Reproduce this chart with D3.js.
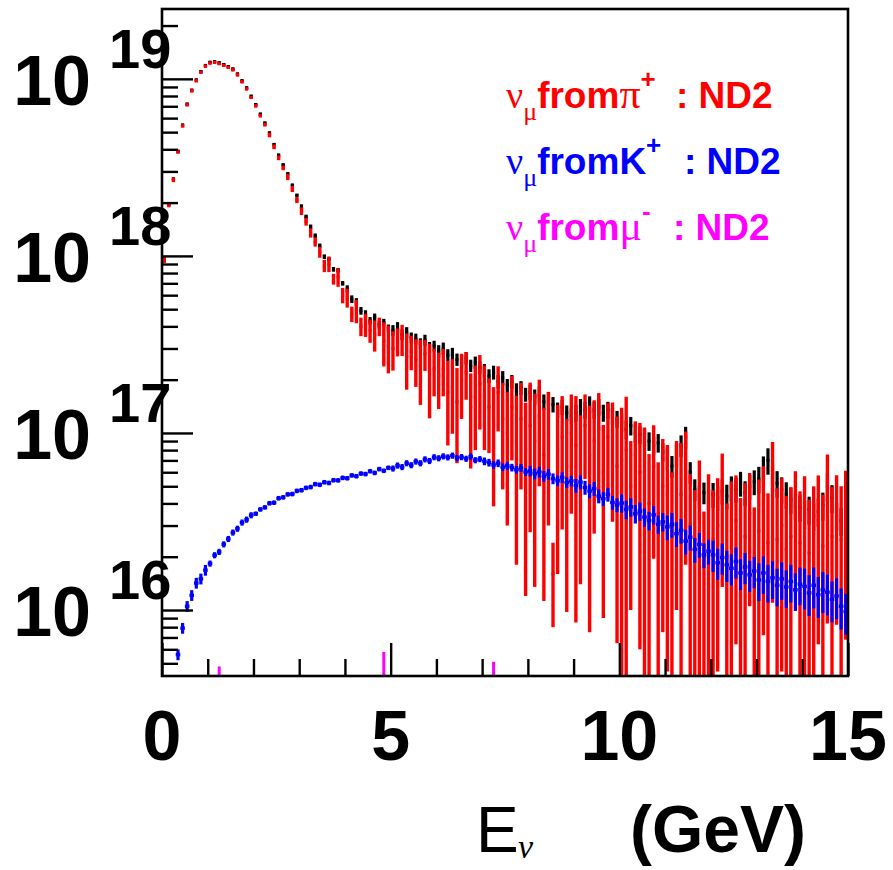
<!DOCTYPE html>
<html><head><meta charset="utf-8">
<script src="https://cdn.jsdelivr.net/npm/d3@7"></script>
<style>body{margin:0;background:#fff}</style>
</head><body><svg id="c" width="893" height="870"></svg>
<script>
// ---------------- data (bin width 0.1 GeV, 150 bins from 0 to 15 GeV; values in units of 1e16) ----------------
const binWidth = 0.1;
const UNIT = 1e16;
const xMajorTicks = [0, 5, 10, 15];
const yDecades = [16, 17, 18, 19];

// nu_mu from pi+ : ND2
const piPlus = [95,194,269,386,542,713,855,975,1089,1178,
 1227,1239,1219,1191,1161,1124,1052,962,877,785,
 703,618,550,482,413,358,314,279,239,207,
 179,156,135,120,105,88,90,74,76,60,
 58,47,49,40,41,38,36,40,33,31,
 30,33,34,27,29,26,24,28,22,23,
 21,23,17,18,15,20,22,14,16,19,
 16,14,11,17,12,10,14,9,12,8,
 11,9,12.5,7.5,10,1.6,8,9.5,6.5,10,
 8.5,7,11,7.5,9,10.5,6,9.5,9,6.5,
 7,8,5,7.5,6,5.5,4,6.5,3.5,5,
 4.5,3,5,4.5,6,3,2.5,3.5,2,3,
 2.5,3,4.5,2,2.8,3.2,2.2,2.6,3.5,2,
 2.8,3.6,2.4,5,2.5,3,2.2,2.6,3.8,2.4,
 3,2.1,2.7,3.2,2.3,4.2,2.6,3.3,2.5,3.4];
const piPlusRelErr = [.04,.03,.03,.02,.02,.02,.02,.02,.02,.02,
 .02,.02,.02,.02,.02,.02,.02,.02,.02,.02,
 .02,.02,.02,.03,.03,.03,.03,.04,.04,.04,
 .05,.05,.06,.06,.07,.08,.1,.07,.12,.1,
 .12,.1,.15,.12,.15,.15,.2,.12,.28,.3,
 .25,.18,.2,.35,.22,.3,.4,.2,.45,.3,
 .35,.3,.5,.45,.55,.4,.3,.55,.5,.45,
 .5,.45,.65,.4,.6,.7,.5,.8,.6,.85,
 .75,.85,.6,.85,.7,.5,.8,.7,.85,.65,
 .9,.8,.5,.9,.7,.6,.85,.55,.65,.9,
 .98,1,.8,.55,.9,.95,.9,.7,.95,.85,
 .9,1,.8,.95,.7,.95,.9,1,.8,.95,
 .9,.85,.7,1,.9,.8,.95,1,.7,.9,
 .95,.8,.9,.78,.95,.85,1,.9,.6,.95,
 .9,1,.85,.8,.95,.8,.9,.75,1,.8];

// nu_mu from K+ : ND2
const kPlus = [0,0,0,0.56,0.79,1.05,1.21,1.42,1.50,1.68,
 1.83,2.04,2.13,2.35,2.52,2.74,2.88,3.12,3.24,3.43,
 3.50,3.70,3.80,4.01,4.04,4.28,4.33,4.50,4.52,4.71,
 4.75,4.90,4.95,5.14,5.10,5.27,5.22,5.41,5.40,5.58,
 5.55,5.76,5.70,5.90,5.86,6.08,5.95,6.25,6.12,6.36,
 6.30,6.55,6.42,6.75,6.58,6.90,6.75,7.10,6.95,7.30,
 7.20,7.38,7.28,7.45,7.22,7.31,7.15,7.36,7.02,7.12,
 6.92,6.80,6.60,6.75,6.41,6.52,6.38,6.20,6.35,6.02,
 6.10,5.88,6.02,5.70,5.85,5.52,5.38,5.60,5.25,5.36,
 5.05,5.28,4.92,4.70,4.85,4.40,4.25,4.50,4.05,3.92,
 4.02,3.70,3.82,3.50,3.62,3.35,3.20,3.45,3.05,3.15,
 2.95,3.05,2.70,2.82,2.45,2.58,2.20,2.35,2.05,2.15,
 2.05,1.85,1.98,1.80,1.72,1.88,1.62,1.75,1.58,1.66,
 1.48,1.62,1.45,1.52,1.38,1.50,1.35,1.45,1.30,1.40,
 1.36,1.25,1.38,1.22,1.30,1.26,1.15,1.20,1.05,0.98];
const kPlusRelErrPerGeV = [.07,.04,.03,.03,.03,.04,.04,.05,.07,.09,.12,.16,.2,.24,.26];

// all nu_mu : ND2 (black)
const total = [96,196,272,390,548,720,863,985,1100,1190,
 1240,1252,1232,1204,1174,1137,1065,975,890,798,
 716,632,563,495,426,371,327,291,251,220,
 190,166,146,130,114,99,96,84,83,70,
 65,57,55,49,47,43,45,41,42,39,
 38,39.5,36,37,34.5,34,32,33.5,30.5,31,
 29,30,27.5,28,26,25.5,26.5,24,25,23.5,
 22.5,21,22,19.5,20.5,18.5,19.5,17.5,18,16.5,
 17,16,16.5,15,15.5,14.5,13.5,14,13,12.5,
 13,14,13.5,14.5,13.5,14,13,13.5,12.5,12,
 11.5,10.5,11,10,9.8,9.5,9,8.5,8.8,7.8,
 7.2,6.5,7.5,8.5,9.5,6,4.8,4.4,4.6,4.2,
 4.5,4.3,4.7,4.4,4.9,4.8,5.2,4.6,5.0,5.3,
 5.5,6.3,7.0,5.6,5.2,4.8,4.5,4.2,3.9,3.8,
 3.5,3.7,3.4,3.6,3.9,5.0,4.3,3.4,3.2,3.6];
const totalRelErrPerGeV = [.02,.02,.02,.03,.05,.07,.08,.09,.1,.11,.12,.14,.16,.17,.18];

// nu_mu from mu- : ND2 (only three non-empty bins)
const muMinusBins = [12, 48, 72];
const muMinusVals = [0.48, 0.58, 0.51];

const legendEntries = [
  {parent: "π", greek: true, charge: "+", color: "#ff0000", colonX: 676},
  {parent: "K", greek: false, charge: "+", color: "#0000ff", colonX: 684},
  {parent: "μ", greek: true, charge: "-", color: "#ff00ff", colonX: 673}
];

// ---------------- drawing ----------------
const svg = d3.select("#c");
const L = 162, R = 848, T = 9, B = 676;
const x = d3.scaleLinear().domain([0, 15]).range([L, R]);
const yMin = 4.24e15, yMax = 2.48e19;
const y = d3.scaleLog().domain([yMin, yMax]).range([B, T]);
const binPx = x(binWidth) - x(0);

svg.append("defs").append("clipPath").attr("id", "clip")
  .append("rect").attr("x", L).attr("y", T).attr("width", R - L).attr("height", B - T);
const plot = svg.append("g").attr("clip-path", "url(#clip)");

function drawSeries(vals, errFn, color, bw, mw, mh) {
  const data = vals.map((v, i) => ({i, v: v * UNIT, r: errFn(i)})).filter(d => d.v > 0);
  const cx = d => x((d.i + 0.5) * binWidth);
  const g = plot.append("g");
  g.selectAll("line").data(data).join("line")
    .attr("x1", cx).attr("x2", cx)
    .attr("y1", d => y(d.v * (1 + d.r)))
    .attr("y2", d => { const lo = d.v * (1 - d.r); return lo <= yMin ? B + 2 : y(lo); })
    .attr("stroke", color).attr("stroke-width", bw);
  g.selectAll("rect").data(data.filter(d => d.v >= yMin)).join("rect")
    .attr("x", d => cx(d) - mw / 2).attr("y", d => y(d.v) - mh / 2)
    .attr("width", mw).attr("height", mh).attr("fill", color);
}

drawSeries(total, i => totalRelErrPerGeV[Math.floor(i * binWidth)], "#000000", 3.2, 3, 3);
drawSeries(piPlus, i => piPlusRelErr[i], "#ff0000", 3.4, 3, 3);
drawSeries(kPlus, i => kPlusRelErrPerGeV[Math.floor(i * binWidth)], "#0000ff", 3.2, binPx, 3.4);

plot.append("g").selectAll("line").data(muMinusBins.map((b, k) => ({b, v: muMinusVals[k] * UNIT})))
  .join("line")
  .attr("x1", d => x((d.b + 0.5) * binWidth)).attr("x2", d => x((d.b + 0.5) * binWidth))
  .attr("y1", d => y(d.v)).attr("y2", B)
  .attr("stroke", "#ff00ff").attr("stroke-width", 3);

// axes ticks
const yMinor = [], yMajor = [];
for (let d = 15; d <= 19; d++) for (let k = 1; k <= 9; k++) {
  const v = k * Math.pow(10, d);
  if (v < yMin || v > yMax) continue;
  (k === 1 ? yMajor : yMinor).push(v);
}
const tickStyle = g => { g.select(".domain").remove(); g.selectAll("line").attr("stroke", "#000").attr("stroke-width", 2.4); };
svg.append("g").attr("transform", `translate(${L},0)`)
  .call(d3.axisLeft(y).tickValues(yMinor).tickSize(-16).tickFormat("")).call(tickStyle);
svg.append("g").attr("transform", `translate(${L},0)`)
  .call(d3.axisLeft(y).tickValues(yMajor).tickSize(-31).tickFormat("")).call(tickStyle);
const xMinor = d3.range(1, 15).filter(v => !xMajorTicks.includes(v));
svg.append("g").attr("transform", `translate(0,${B})`)
  .call(d3.axisBottom(x).tickValues(xMinor).tickSize(-17).tickFormat("")).call(tickStyle);
svg.append("g").attr("transform", `translate(0,${B})`)
  .call(d3.axisBottom(x).tickValues(xMajorTicks).tickSize(-33).tickFormat("")).call(tickStyle);

// frame
svg.append("rect").attr("x", L).attr("y", T).attr("width", R - L).attr("height", B - T)
  .attr("fill", "none").attr("stroke", "#000").attr("stroke-width", 2.6);

// y labels 10^n
const yl = svg.append("g").attr("font-family", "Liberation Sans, Arial, sans-serif").attr("font-weight", "bold").attr("fill", "#000");
yDecades.forEach(d => {
  const ty = y(Math.pow(10, d));
  yl.append("text").attr("x", 91).attr("y", ty + 26).attr("text-anchor", "end").attr("font-size", 70).text("10");
  yl.append("text").attr("x", 109).attr("y", ty - 11).attr("font-size", 56).text(String(d));
});

// x labels
const xl = svg.append("g").attr("font-family", "Liberation Sans, Arial, sans-serif").attr("font-weight", "bold");
xMajorTicks.forEach(v => {
  xl.append("text").attr("x", x(v)).attr("y", 760).attr("text-anchor", "middle").attr("font-size", 70).text(String(v));
});

// x title
const xt = svg.append("g").attr("font-family", "Liberation Sans, Arial, sans-serif");
xt.append("text").attr("x", 476).attr("y", 852).attr("font-size", 64).text("E");
xt.append("text").attr("x", 518).attr("y", 858).attr("font-size", 34).attr("font-style", "italic")
  .attr("font-family", "Liberation Serif, serif").text("ν");
xt.append("text").attr("x", 630).attr("y", 852).attr("font-size", 66).attr("font-weight", "bold").text("(GeV)");

// legend
legendEntries.forEach((e, k) => {
  const t = svg.append("text").attr("x", 506).attr("y", 108 + k * 66).attr("fill", e.color)
    .attr("font-family", "Liberation Sans, Arial, sans-serif");
  t.append("tspan").attr("font-family", "Liberation Serif, serif").attr("font-size", 38).text("ν");
  t.append("tspan").attr("font-family", "Liberation Serif, serif").attr("font-size", 26).attr("dy", 12).text("μ");
  t.append("tspan").attr("font-weight", "bold").attr("font-size", 37).attr("dy", -12).text("from");
  if (e.greek) t.append("tspan").attr("font-family", "Liberation Serif, serif").attr("font-size", 42).text(e.parent);
  else t.append("tspan").attr("font-weight", "bold").attr("font-size", 37).text(e.parent);
  t.append("tspan").attr("font-weight", "bold").attr("font-size", 26).attr("dy", -20).text(e.charge);
  t.append("tspan").attr("font-weight", "bold").attr("font-size", 37).attr("dy", 20).attr("x", e.colonX).text(": ND2");
});
</script></body></html>
